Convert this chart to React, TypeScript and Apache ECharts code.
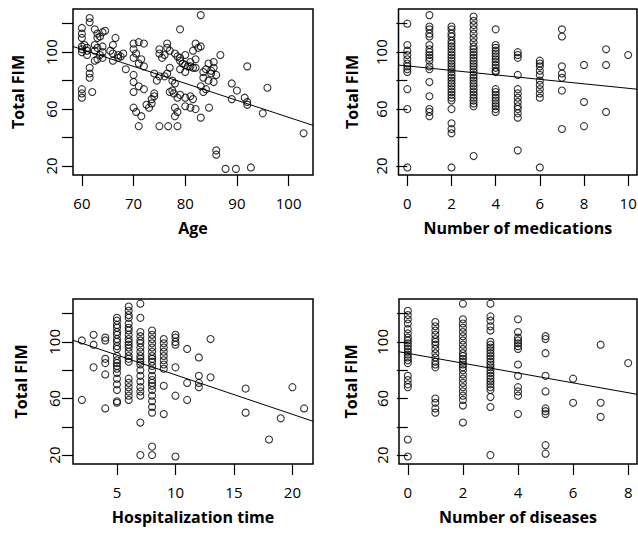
import React, { useEffect, useRef } from "react";
import * as echarts from "echarts";

// ---- tick values ----
const yTicks = [20, 40, 60, 80, 100, 120];
const yLabels = [20, 60, 100];
const ageTicks = [60, 70, 80, 90, 100];
const medTicks = [0, 2, 4, 6, 8, 10];
const hospTicks = [5, 10, 15, 20];
const disTicks = [0, 2, 4, 6, 8];

// ---- axis titles ----
const xTitles = ["Age", "Number of medications", "Hospitalization time", "Number of diseases"];
const yTitle = "Total FIM";

// ---- regression lines: [intercept, slope] ----
const ageFit = [173.5, -1.193];
const medFit = [90.3, -1.57];
const hospFit = [104.6, -2.79];
const disFit = [91.9, -3.48];

// ---- data: [x, Total FIM] ----
const ageData = [
  [60, 117], [60, 113], [60, 110], [60, 104], [60, 102], [60, 100], [60.5, 105], [61, 103], [61, 101], [61, 98],
  [60, 74], [60, 71], [60, 68], [62, 72], [61.5, 89], [61.5, 85], [61.5, 82], [61.5, 124], [61.5, 121],
  [62.5, 116], [63, 113], [63.5, 111], [64, 114], [64.5, 115], [63, 110], [62.5, 105], [63, 103], [64, 104], [64, 100],
  [62.5, 101], [63.5, 98], [63, 95], [64, 96], [62.5, 94],
  [66.5, 110], [66, 105], [65.5, 101], [66, 99], [67, 98], [67.5, 97], [66, 94], [67, 96], [68, 99],
  [70, 106], [71, 107], [72, 106], [70, 102], [70.5, 99], [70, 96], [71.5, 95], [71, 92], [72, 90], [68.5, 88],
  [70, 84], [70, 79], [71, 76], [72, 74], [70, 72],
  [70, 61], [70.5, 58], [71.5, 55], [71, 48], [73, 61], [73.5, 64], [73.5, 67], [74, 69], [74, 71], [72.5, 63], [75, 48], [76.7, 48],
  [75, 102], [75, 99], [75.5, 96], [76.5, 106], [76.5, 103], [76, 98], [77, 101], [76.5, 85], [76, 83], [75, 83],
  [77, 72], [77.5, 73], [78, 78], [79, 116], [74, 85], [74.5, 80],
  [78, 99], [78.5, 97], [79, 94], [79.5, 92], [80, 91], [80.5, 90], [81, 90], [81.5, 89], [82, 89], [79, 88], [80, 86],
  [81, 93], [82, 95], [79, 96], [80, 98],
  [82, 106], [83, 104], [82.5, 103], [81.5, 101], [77, 89], [77.5, 80],
  [77.8, 71], [78.5, 68], [79, 70], [80, 68], [81, 69], [81.5, 67],
  [78, 61], [78.5, 58], [78, 55], [78.5, 48], [80, 62], [81, 61], [82, 60], [83, 54],
  [83, 126],
  [86.8, 98], [85.5, 93], [85.5, 89], [85, 87], [84.5, 92], [84, 88], [83.5, 86], [83.5, 82], [84.5, 80], [85.5, 79],
  [83, 76], [84, 74], [83.5, 72], [84.6, 61], [86, 31], [86, 28], [85, 85], [86, 84],
  [87.8, 18], [89.8, 18], [92.7, 19], [89, 78], [90, 73], [89, 67], [91.5, 68], [92, 65], [92, 63], [92, 90],
  [95.9, 75], [95, 57], [102.9, 43],
];

const medData = [
  [0, 120], [0, 105], [0, 101], [0, 98], [0, 95], [0, 92], [0, 90], [0, 88], [0, 86], [0, 74], [0, 60], [0, 19],
  [1, 126], [1, 118], [1, 116], [1, 113], [1, 111], [1, 105], [1, 102], [1, 100], [1, 98], [1, 96], [1, 94], [1, 90],
  [1, 88], [1, 79], [1, 69], [1, 60], [1, 58], [1, 55],
  [2, 118], [2, 116], [2, 113], [2, 111], [2, 108], [2, 106], [2, 104], [2, 102], [2, 100], [2, 98], [2, 96], [2, 94],
  [2, 92], [2, 90], [2, 88], [2, 86], [2, 84], [2, 82], [2, 80], [2, 78], [2, 76], [2, 74], [2, 72], [2, 70], [2, 68],
  [2, 66], [2, 60], [2, 50], [2, 46], [2, 43], [2, 19],
  [3, 125], [3, 122], [3, 119], [3, 116], [3, 113], [3, 110], [3, 107], [3, 104], [3, 102], [3, 100], [3, 98], [3, 96],
  [3, 94], [3, 92], [3, 90], [3, 88], [3, 86], [3, 84], [3, 82], [3, 80], [3, 78], [3, 76], [3, 74], [3, 72], [3, 70],
  [3, 68], [3, 66], [3, 64], [3, 62], [3, 27],
  [4, 116], [4, 105], [4, 103], [4, 101], [4, 99], [4, 97], [4, 95], [4, 93], [4, 91], [4, 89], [4, 87], [4, 86],
  [4, 74], [4, 72], [4, 70], [4, 68], [4, 66], [4, 64], [4, 62], [4, 60], [4, 58],
  [5, 100], [5, 98], [5, 96], [5, 84], [5, 74], [5, 71], [5, 68], [5, 65], [5, 62], [5, 60], [5, 57], [5, 54], [5, 31],
  [6, 94], [6, 92], [6, 90], [6, 87], [6, 84], [6, 80], [6, 77], [6, 74], [6, 71], [6, 68], [6, 19],
  [7, 116], [7, 111], [7, 90], [7, 85], [7, 82], [7, 73], [7, 46],
  [8, 91], [8, 65], [8, 48],
  [9, 102], [9, 91], [9, 58],
  [10, 98],
];

const hospData = [
  [2, 59], [2, 101], [3, 105], [3, 98], [3, 82], [4, 103], [4, 101], [4, 88], [4, 85], [4, 77], [4, 53],
  [5, 117], [5, 115], [5, 112], [5, 110], [5, 107], [5, 105], [5, 102], [5, 100], [5, 97], [5, 95], [5, 90], [5, 87],
  [5, 85], [5, 83], [5, 81], [5, 78], [5, 74], [5, 70], [5, 66], [5, 58], [5, 57],
  [6, 125], [6, 122], [6, 119], [6, 117], [6, 113], [6, 110], [6, 108], [6, 105], [6, 102], [6, 100], [6, 98], [6, 96],
  [6, 93], [6, 90], [6, 88], [6, 86], [6, 74], [6, 71], [6, 68], [6, 65], [6, 62], [6, 59],
  [7, 127], [7, 117], [7, 107], [7, 104], [7, 101], [7, 99], [7, 96], [7, 93], [7, 90], [7, 88], [7, 86], [7, 84],
  [7, 80], [7, 76], [7, 72], [7, 68], [7, 65], [7, 62], [7, 43], [7, 20],
  [8, 108], [8, 105], [8, 102], [8, 99], [8, 96], [8, 93], [8, 90], [8, 88], [8, 86], [8, 83], [8, 80], [8, 76],
  [8, 73], [8, 71], [8, 69], [8, 66], [8, 62], [8, 58], [8, 54], [8, 50], [8, 26], [8, 20],
  [9, 102], [9, 99], [9, 96], [9, 93], [9, 90], [9, 87], [9, 84], [9, 81], [9, 69], [9, 49],
  [10, 105], [10, 103], [10, 100], [10, 98], [10, 82], [10, 62], [10, 19],
  [11, 95], [11, 71], [11, 59], [12, 89], [12, 76], [12, 71], [12, 68], [13, 102], [13, 75],
  [16, 67], [16, 50], [18, 31], [19, 46], [20, 68], [21, 53],
];

const disData = [
  [0, 122], [0, 119], [0, 116], [0, 113], [0, 109], [0, 106], [0, 103], [0, 101], [0, 99], [0, 97], [0, 95], [0, 93],
  [0, 91], [0, 89], [0, 87], [0, 85], [0, 76], [0, 73], [0, 70], [0, 68], [0, 31], [0, 19],
  [1, 114], [1, 111], [1, 108], [1, 105], [1, 102], [1, 100], [1, 98], [1, 95], [1, 92], [1, 89], [1, 86], [1, 84],
  [1, 82], [1, 60], [1, 57], [1, 53], [1, 50],
  [2, 127], [2, 116], [2, 113], [2, 110], [2, 107], [2, 104], [2, 101], [2, 98], [2, 95], [2, 92], [2, 90], [2, 88],
  [2, 86], [2, 84], [2, 82], [2, 80], [2, 77], [2, 74], [2, 71], [2, 68], [2, 65], [2, 62], [2, 59], [2, 55], [2, 43],
  [3, 127], [3, 118], [3, 115], [3, 111], [3, 108], [3, 100], [3, 98], [3, 96], [3, 94], [3, 92], [3, 90], [3, 88],
  [3, 86], [3, 84], [3, 82], [3, 80], [3, 78], [3, 76], [3, 74], [3, 72], [3, 70], [3, 68], [3, 66], [3, 61], [3, 54], [3, 20],
  [4, 116], [4, 107], [4, 103], [4, 101], [4, 99], [4, 97], [4, 95], [4, 84], [4, 76], [4, 68], [4, 65], [4, 62], [4, 49],
  [5, 104], [5, 102], [5, 92], [5, 76], [5, 65], [5, 53], [5, 51], [5, 49], [5, 27], [5, 21],
  [6, 74], [6, 57],
  [7, 98], [7, 57], [7, 47],
  [8, 85],
];

// ---- axis ranges (R style, 4% padding) ----
const yRange = [13.7, 130.3];
const ageRange = [58.28, 104.72];
const medRange = [-0.4, 10.4];
const hospRange = [1.24, 21.76];
const disRange = [-0.32, 8.32];

const FONT = "'Open Sans', 'Noto Sans', sans-serif";

export default function App() {
  const ref = useRef<HTMLDivElement>(null);
  useEffect(() => {
    document.body.style.margin = "0";
    const chart = echarts.init(ref.current!, null, { renderer: "svg" });

    const panels = [
      { data: ageData, ticks: ageTicks, range: ageRange, fit: ageFit, grid: { left: 73, top: 9, width: 240, height: 166 }, yMargin: 15, yGap: 47 },
      { data: medData, ticks: medTicks, range: medRange, fit: medFit, grid: { left: 398.5, top: 9, width: 238.5, height: 166 }, yMargin: 10, yGap: 39 },
      { data: hospData, ticks: hospTicks, range: hospRange, fit: hospFit, grid: { left: 73, top: 299, width: 240, height: 165 }, yMargin: 12, yGap: 44 },
      { data: disData, ticks: disTicks, range: disRange, fit: disFit, grid: { left: 399, top: 299, width: 238, height: 165 }, yMargin: 10, yGap: 40 },
    ];

    const grid = panels.map((p) => ({
      ...p.grid,
      show: true,
      borderColor: "#000",
      borderWidth: 1.5,
      backgroundColor: "transparent",
      containLabel: false,
      outerBoundsMode: "none",
    }));

    const xAxis = panels.map((p, i) => ({
      gridIndex: i,
      type: "value",
      min: p.range[0],
      max: p.range[1],
      name: xTitles[i],
      nameLocation: "middle",
      nameGap: 45,
      nameMoveOverlap: false,
      nameTextStyle: { fontFamily: FONT, fontSize: 16, fontWeight: "bold", color: "#000" },
      axisLine: { show: false },
      splitLine: { show: false },
      axisTick: { show: true, customValues: p.ticks, length: 11, lineStyle: { color: "#000", width: 1.2 } },
      axisLabel: { customValues: p.ticks, margin: 20, fontFamily: FONT, fontSize: 15, color: "#000" },
    }));

    const yAxis = panels.map((p, i) => ({
      gridIndex: i,
      type: "value",
      min: yRange[0],
      max: yRange[1],
      name: yTitle,
      nameLocation: "middle",
      nameGap: p.yGap,
      nameMoveOverlap: false,
      nameTextStyle: { fontFamily: FONT, fontSize: 16, fontWeight: "bold", color: "#000" },
      axisLine: { show: false },
      splitLine: { show: false },
      axisTick: { show: true, customValues: yTicks, length: 11, lineStyle: { color: "#000", width: 1.2 } },
      axisLabel: { customValues: yLabels, rotate: 90, margin: p.yMargin, fontFamily: FONT, fontSize: 15, color: "#000" },
    }));

    const series: any[] = [];
    panels.forEach((p, i) => {
      series.push({
        type: "scatter",
        xAxisIndex: i,
        yAxisIndex: i,
        data: p.data,
        symbol: "circle",
        symbolSize: 7,
        silent: true,
        itemStyle: { color: "rgba(0,0,0,0)", borderColor: "#000", borderWidth: 1.1 },
      });
      series.push({
        type: "line",
        xAxisIndex: i,
        yAxisIndex: i,
        showSymbol: false,
        silent: true,
        data: [
          [p.range[0], p.fit[0] + p.fit[1] * p.range[0]],
          [p.range[1], p.fit[0] + p.fit[1] * p.range[1]],
        ],
        lineStyle: { color: "#000", width: 1 },
      });
    });

    chart.setOption({
      animation: false,
      backgroundColor: "#fff",
      grid,
      xAxis,
      yAxis,
      series,
    });
    return () => chart.dispose();
  }, []);
  return <div ref={ref} style={{ position: "absolute", left: 0, top: 0, width: 638, height: 533 }} />;
}
